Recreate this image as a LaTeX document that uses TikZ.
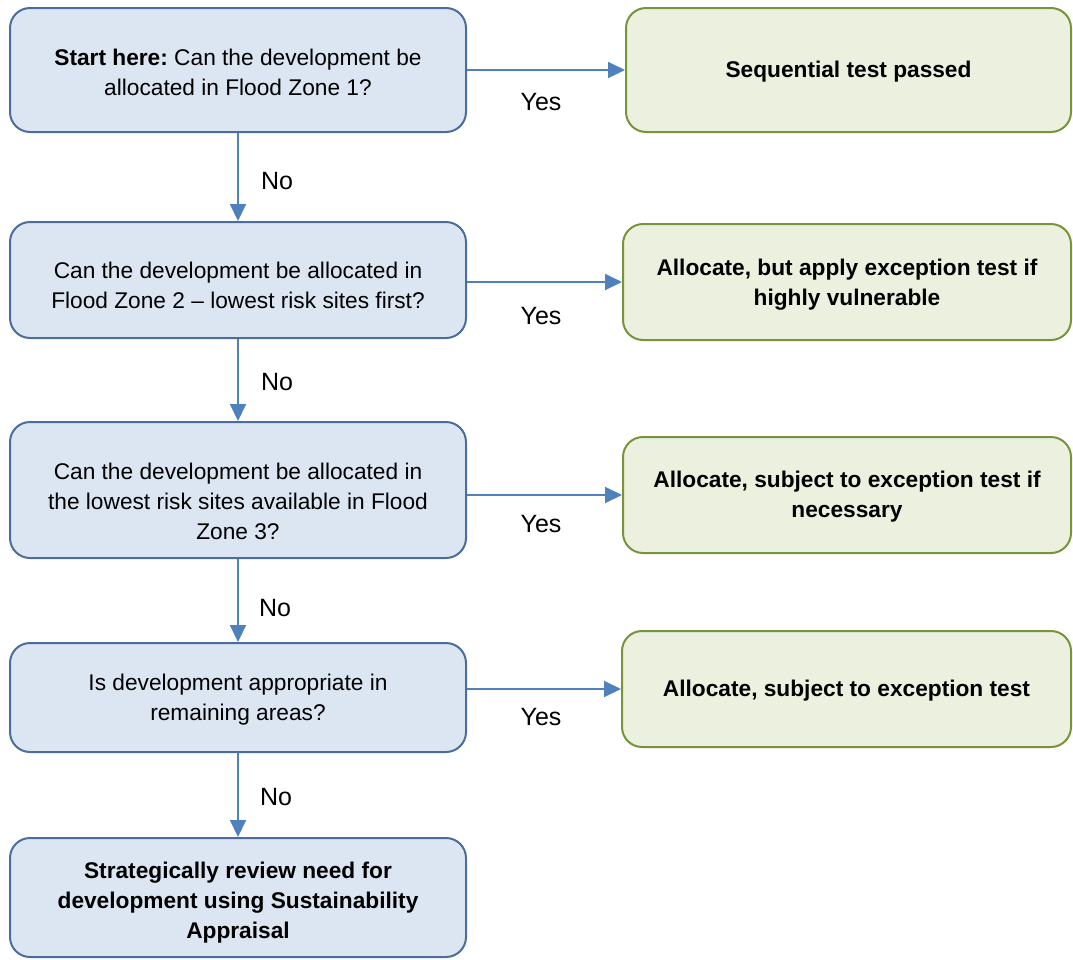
\documentclass[tikz,border=0pt]{standalone}
\usepackage{fontspec}
\setmainfont{Liberation Sans}
\usetikzlibrary{arrows.meta,calc}
\definecolor{bfill}{HTML}{DCE6F2}
\definecolor{bline}{HTML}{4A6D9C}
\definecolor{gfill}{HTML}{EBF1DE}
\definecolor{gline}{HTML}{77933C}
\definecolor{arr}{HTML}{4F81BD}
\begin{document}
\frenchspacing
\begin{tikzpicture}[x=1pt,y=-1pt,
  qbox/.style={draw=bline,fill=bfill,line width=2pt,rounded corners=20pt,inner sep=0pt},
  abox/.style={draw=gline,fill=gfill,line width=2pt,rounded corners=20pt,inner sep=0pt},
  qtxt/.style={align=center,font=\fontsize{22.7}{30}\selectfont,inner sep=0pt},
  atxt/.style={align=center,font=\fontsize{22.7}{30}\selectfont\bfseries,inner sep=0pt},
  flow/.style={draw=arr,line width=2pt,-{Triangle[length=17pt,width=16pt]}},
  lbl/.style={font=\fontsize{25}{28}\selectfont,inner sep=0pt}]
\useasboundingbox (0,0) rectangle (1073,959);
\node[qbox,minimum width=456pt,minimum height=124pt] (b1) at (238,70) {};
\node[qbox,minimum width=456pt,minimum height=116pt] (b2) at (238,280) {};
\node[qbox,minimum width=456pt,minimum height=136pt] (b3) at (238,490) {};
\node[qbox,minimum width=456pt,minimum height=109pt] (b4) at (238,697.5) {};
\node[qbox,minimum width=456pt,minimum height=119pt] (b5) at (238,897.5) {};
\node[abox,minimum width=445pt,minimum height=124pt] (r1) at (848.5,70) {};
\node[abox,minimum width=448pt,minimum height=116pt] (r2) at (847,282) {};
\node[abox,minimum width=448pt,minimum height=116pt] (r3) at (847,495) {};
\node[abox,minimum width=449pt,minimum height=116pt] (r4) at (846.5,689) {};
\node[qtxt] (b1t) at ($(b1)+(0,2)$) {\textbf{Start here:} Can the development be\\allocated in Flood Zone 1?};
\node[qtxt] (b2t) at ($(b2)+(0,5)$) {Can the development be allocated in\\Flood Zone 2 -- lowest risk sites first?};
\node[qtxt] (b3t) at ($(b3)+(0,11)$) {Can the development be allocated in\\the lowest risk sites available in Flood\\Zone 3?};
\node[qtxt] (b4t) at ($(b4)+(0,2)$) {Is development appropriate in\\remaining areas?};
\node[atxt] (b5t) at ($(b5)+(0,5)$) {Strategically review need for\\development using Sustainability\\Appraisal};
\node[atxt] (r1t) at ($(r1)+(0,2)$) {Sequential test passed};
\node[atxt] (r2t) at ($(r2)+(0,3)$) {Allocate, but apply exception test if\\highly vulnerable};
\node[atxt] (r3t) at ($(r3)+(0,2)$) {Allocate, subject to exception test if\\necessary};
\node[atxt] (r4t) at ($(r4)+(0,2)$) {Allocate, subject to exception test};
\draw[flow] (b1.east) -- (r1.west);
\draw[flow] (b2.east |- r2.west) -- (r2.west);
\draw[flow] (b3.east |- r3.west) -- (r3.west);
\draw[flow] (b4.east |- r4.west) -- (r4.west);
\draw[flow] (b1.south) -- (b2.north);
\draw[flow] (b2.south) -- (b3.north);
\draw[flow] (b3.south) -- (b4.north);
\draw[flow] (b4.south) -- (b5.north);
\node[lbl] (y1) at (541,102) {Yes};
\node[lbl] (y2) at (541,316) {Yes};
\node[lbl] (y3) at (541,524) {Yes};
\node[lbl] (y4) at (541,717) {Yes};
\node[lbl] (n1) at (277,181) {No};
\node[lbl] (n2) at (277,382) {No};
\node[lbl] (n3) at (275,608) {No};
\node[lbl] (n4) at (276,797) {No};
\end{tikzpicture}
\end{document}
